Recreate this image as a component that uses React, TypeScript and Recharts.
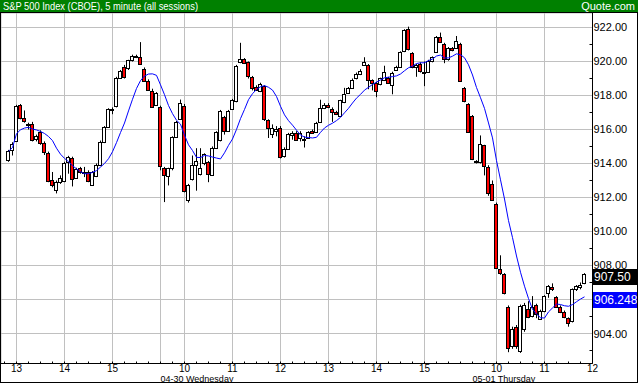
import React from 'react';
import {
  ComposedChart, Bar, Line, XAxis, YAxis, CartesianGrid, ReferenceLine,
} from 'recharts';

// ── 5 minute candles, 04-29 12:50 → 05-01 11:50 (index = candle number) ──
const OPEN = [
  914.18, 914.82, 915.35, 917.43, 916.69, 916.25, 916.33, 915.45, 915.86, 915.22,
  914.63, 913.04, 912.47, 912.92, 912.96, 914.08, 914.33, 913.16, 913.75, 913.45,
  913.49, 912.76, 913.25, 913.94, 915.28, 916.14, 917.15, 917.37, 919.04, 919.67,
  919.59, 920.08, 920.27, 920.27, 919.57, 918.88, 918.29, 917.43, 917.33, 913.75,
  913.25, 913.71, 915.57, 916.63, 917.41, 911.88, 913.06, 913.94, 913.41, 914.0,
  914.08, 913.35, 914.92, 915.37, 916.75, 915.94, 917.22, 917.67, 919.98, 920.16,
  919.96, 919.1, 918.51, 918.25, 918.55, 916.53, 915.75, 915.9, 916.1, 914.43,
  914.86, 915.7, 915.8, 915.51, 915.45, 915.51, 915.9, 915.84, 916.45, 917.27,
  917.47, 917.22, 917.04, 916.82, 917.61, 918.16, 918.45, 919.04, 919.27, 919.82,
  919.78, 918.9, 918.71, 918.65, 918.9, 919.04, 918.59, 919.49, 919.69, 920.61,
  921.92, 920.51, 919.7, 919.88, 919.35, 919.39, 920.02, 920.57, 921.45, 921.04,
  920.12, 920.8, 920.8, 921.0, 918.45, 917.51, 916.78, 914.12, 914.08, 915.06,
  913.8, 912.82, 911.63, 907.82, 907.51, 905.57, 903.25, 904.39, 903.0, 904.24,
  905.45, 905.02, 905.67, 904.86, 905.31, 906.39, 906.75, 906.16, 905.57, 905.29,
  904.9, 904.72, 906.59, 906.75, 906.98,
];
const HIGH = [
  914.8, 915.25, 917.45, 917.5, 917.12, 916.4, 916.45, 915.7, 915.95, 915.3,
  914.7, 913.5, 913.0, 913.3, 914.1, 914.45, 914.4, 913.75, 913.8, 913.8,
  913.6, 913.55, 914.0, 915.35, 916.2, 917.25, 917.3, 919.1, 919.5, 919.8,
  920.1, 920.4, 920.4, 921.14, 919.65, 918.95, 918.4, 918.2, 917.4, 913.8,
  913.75, 915.6, 916.5, 917.76, 917.5, 912.8, 914.47, 914.9, 914.9, 914.6,
  914.15, 915.0, 915.9, 917.15, 916.8, 917.15, 917.8, 919.8, 921.1, 920.2,
  920.0, 919.15, 918.6, 918.75, 918.6, 916.6, 916.3, 916.2, 916.2, 914.95,
  915.8, 915.9, 915.9, 915.9, 915.6, 915.9, 916.0, 916.45, 917.75, 917.55,
  917.55, 917.3, 917.1, 917.75, 918.45, 918.5, 919.0, 919.35, 919.55, 920.25,
  919.85, 918.95, 918.8, 919.05, 919.75, 919.1, 919.4, 919.75, 920.6, 921.9,
  922.05, 920.55, 919.85, 919.95, 920.0, 920.1, 920.3, 921.5, 921.7, 921.1,
  920.85, 920.85, 921.5, 921.1, 918.5, 917.55, 916.85, 914.2, 915.65, 915.1,
  913.9, 913.0, 911.7, 908.6, 907.55, 905.65, 904.4, 904.5, 905.7, 905.8,
  905.9, 906.2, 905.75, 905.4, 906.25, 906.85, 906.95, 906.2, 905.65, 905.35,
  904.95, 906.65, 906.85, 907.0, 907.55,
];
const LOW = [
  914.1, 914.47, 915.3, 916.6, 916.4, 916.0, 915.3, 915.3, 915.1, 914.5,
  912.9, 912.6, 912.24, 912.8, 912.9, 913.4, 912.65, 913.1, 913.4, 913.2,
  912.9, 912.7, 913.2, 913.9, 915.2, 916.1, 916.9, 917.3, 919.0, 919.0,
  919.5, 920.0, 920.2, 919.8, 918.8, 918.3, 917.3, 917.4, 913.6, 911.73,
  912.71, 913.6, 915.5, 916.6, 912.3, 911.7, 913.0, 912.4, 913.3, 913.9,
  912.9, 913.3, 914.85, 915.3, 915.7, 915.9, 917.15, 917.6, 919.9, 919.85,
  919.0, 918.3, 918.3, 918.2, 916.5, 915.5, 915.5, 915.6, 914.3, 914.35,
  914.8, 915.4, 915.35, 915.3, 914.94, 915.45, 915.75, 915.8, 916.4, 917.2,
  917.25, 916.45, 916.85, 916.75, 917.55, 918.1, 918.4, 918.95, 919.2, 919.75,
  918.37, 918.3, 917.9, 918.6, 918.85, 918.7, 918.07, 919.45, 919.65, 920.55,
  920.65, 919.6, 919.1, 919.35, 918.55, 919.35, 919.95, 920.5, 921.1, 919.9,
  920.05, 920.6, 920.75, 918.8, 917.6, 915.8, 914.2, 914.0, 914.0, 913.3,
  912.1, 911.8, 907.8, 907.45, 906.3, 902.9, 903.1, 903.1, 902.86, 904.1,
  904.9, 904.95, 904.9, 904.8, 905.25, 906.1, 906.5, 905.5, 905.2, 904.9,
  904.4, 904.65, 906.5, 906.6, 906.9,
];
const CLOSE = [
  914.72, 915.16, 917.37, 916.69, 916.49, 916.35, 915.41, 915.6, 915.18, 914.69,
  912.96, 912.71, 912.92, 913.16, 914.04, 914.39, 913.1, 913.69, 913.51, 913.5,
  912.96, 913.51, 913.94, 915.28, 916.14, 917.18, 917.22, 919.04, 919.43, 919.1,
  920.08, 920.35, 920.33, 919.88, 918.84, 918.35, 917.33, 918.16, 913.84, 913.31,
  913.71, 915.57, 916.45, 917.57, 912.37, 912.71, 913.94, 914.14, 913.75, 914.53,
  913.41, 914.92, 915.86, 917.08, 915.94, 917.08, 917.71, 919.76, 920.12, 919.92,
  919.14, 918.45, 918.35, 918.69, 916.59, 916.1, 916.06, 916.0, 914.37, 914.88,
  915.71, 915.8, 915.41, 915.8, 915.41, 915.84, 915.8, 916.39, 917.27, 917.47,
  917.31, 917.02, 916.92, 917.71, 918.1, 918.45, 918.94, 919.27, 919.47, 919.98,
  918.94, 918.71, 918.29, 919.0, 919.39, 918.75, 919.33, 919.69, 920.57, 921.88,
  920.71, 919.69, 919.8, 919.43, 919.4, 920.02, 920.27, 921.45, 921.16, 920.12,
  920.8, 920.67, 921.2, 918.86, 917.67, 915.86, 914.27, 914.08, 915.16, 913.84,
  912.24, 911.88, 907.86, 907.53, 906.39, 903.16, 904.28, 903.25, 905.6, 905.65,
  904.96, 905.57, 905.12, 905.31, 906.19, 906.78, 906.59, 905.57, 905.29, 904.96,
  904.63, 906.59, 906.78, 906.88, 907.5,
];

// hour grid lines (candle index) and their labels; '' = day break
const HOUR_IDX = [2, 14, 26, 38, 44, 56, 68, 80, 92, 104, 116, 122, 134, 146];
const HOUR_LABELS = ['13', '14', '15', '', '10', '11', '12', '13', '14', '15', '', '10', '11', '12'];
const DAY_IDX = [38, 116];
const DAY_LABELS = ['04-30 Wednesday', '05-01 Thursday'];
const PRICE_TICKS = [904, 906, 908, 910, 912, 914, 916, 918, 920, 922];
const MINOR_TICKS = [903, 905, 907, 909, 911, 913, 915, 917, 919, 921];
const QUARTER_IDX = Array.from({ length: 50 }, (_, k) => -1 + 3 * k);

const MA_PERIOD = 10;
const MA_LAST_TEXT = '906.248';

const X_DOMAIN = [-1.875, 146];
const Y_DOMAIN = [902.2353, 922.8529];

const FONT = '"Liberation Sans", Arial, sans-serif';
const GRID = '#c0c0c0';
const RED = '#ff0000';

// moving average of the closes shown in the picture
const MA = CLOSE.map((_, k) => {
  const w = CLOSE.slice(Math.max(0, k - MA_PERIOD + 1), k + 1);
  return w.reduce((a, b) => a + b, 0) / w.length;
});

const DATA = CLOSE.map((c, k) => ({
  i: k, o: OPEN[k], h: HIGH[k], l: LOW[k], c,
  range: [LOW[k], HIGH[k]], ma: MA[k],
}));

const LAST_CLOSE = CLOSE[CLOSE.length - 1];
const LAST_MA = MA[MA.length - 1];

const Candle = (props: any) => {
  const { x, y, width, height, payload } = props;
  const { o, h, l, c } = payload;
  const cx = Math.floor(x + width / 2) + 0.5;
  const py = (p: number) => y + ((h - p) / (h - l)) * height;
  const top = Math.round(py(Math.max(o, c))) + 0.5;
  const bot = Math.round(py(Math.min(o, c))) + 0.5;
  return (
    <g>
      <line x1={cx} x2={cx} y1={y} y2={y + height} stroke="#000" />
      <rect x={cx - 2} y={top} width={3} height={Math.max(bot - top, 1)}
        fill={c >= o ? '#fff' : RED} stroke="#000" />
    </g>
  );
};

const XTick = ({ x, y, payload }: any) => {
  const v = payload.value;
  const h = HOUR_IDX.indexOf(v);
  const d = DAY_IDX.indexOf(v);
  return (
    <g>
      <line x1={x} x2={x} y1={y} y2={y - 2} stroke="#000" />
      {h >= 0 && HOUR_LABELS[h] !== '' && (
        <text x={x} y={y + 8} textAnchor="middle" fontSize={10} fontFamily={FONT} fill="#000">
          {HOUR_LABELS[h]}
        </text>
      )}
      {d >= 0 && (
        <text x={x} y={y + 18} fontSize={9} fontFamily={FONT} fill="#000">
          {DAY_LABELS[d]}
        </text>
      )}
    </g>
  );
};

const YTick = ({ x, y, payload }: any) => {
  const v = payload.value;
  if (v % 2 !== 0) return <line x1={x - 3} x2={x} y1={y} y2={y} stroke="#000" />;
  // labels hidden behind the last-value boxes
  if (Math.abs(v - LAST_MA) < 0.6 || (Math.abs(v - LAST_CLOSE) < 0.4)) return <g />;
  return (
    <text x={x + 1} y={y + 4} fontSize={11} fontFamily={FONT} fill="#000">
      {v.toFixed(2)}
    </text>
  );
};

const ValueBox = ({ viewBox, text, bg }: any) => {
  const x = Math.ceil(viewBox.x + viewBox.width);
  const y = Math.round(viewBox.y) - 5;
  return (
    <g>
      <rect x={x} y={y} width={46} height={16} fill={bg} />
      <text x={x + 1} y={y + 12} fontSize={12} fontFamily={FONT} fill="#fff">{text}</text>
    </g>
  );
};

const Empty = () => <g />;

export default function App() {
  return (
    <div style={{ position: 'absolute', left: 0, top: 0, width: 638, height: 383, background: '#fff', overflow: 'hidden' }}>
      <ComposedChart width={638} height={383} data={DATA}
        margin={{ top: 13, right: 0, bottom: 0, left: 1 }}>
        <XAxis xAxisId="g" type="number" dataKey="i" domain={X_DOMAIN} ticks={HOUR_IDX} hide allowDataOverflow />
        <YAxis yAxisId="g" type="number" domain={Y_DOMAIN} ticks={PRICE_TICKS} hide allowDataOverflow />
        <CartesianGrid xAxisId="g" yAxisId="g" stroke={GRID} strokeDasharray="" />
        <XAxis xAxisId={0} type="number" dataKey="i" domain={X_DOMAIN} ticks={QUARTER_IDX}
          allowDataOverflow interval={0} height={19.5} tickSize={0} tickMargin={0}
          tickLine={false} axisLine={{ stroke: '#000' }} tick={<XTick />} />
        <XAxis xAxisId="t" orientation="top" type="number" dataKey="i" domain={X_DOMAIN}
          ticks={QUARTER_IDX} allowDataOverflow interval={0} height={0} mirror
          tickSize={2} axisLine={false} tickLine={{ stroke: '#000' }} tick={<Empty />} />
        <YAxis yAxisId={0} orientation="right" type="number" domain={Y_DOMAIN}
          ticks={[...PRICE_TICKS, ...MINOR_TICKS].sort((a, b) => a - b)} allowDataOverflow
          interval={0} width={45.5} tickSize={0} tickMargin={0} tickLine={false}
          axisLine={{ stroke: '#000' }} tick={<YTick />} />
        <YAxis yAxisId="l" orientation="left" type="number" domain={Y_DOMAIN}
          ticks={MINOR_TICKS} allowDataOverflow interval={0} width={0} mirror
          tickSize={3} axisLine={false} tickLine={{ stroke: '#000' }} tick={<Empty />} />
        <Bar dataKey="range" barSize={3} shape={<Candle />} isAnimationActive={false} />
        <Line dataKey="ma" type="linear" stroke="#0000ff" strokeWidth={1} dot={false}
          activeDot={false} isAnimationActive={false} />
        <ReferenceLine y={LAST_CLOSE} stroke="none"
          label={(p: any) => <ValueBox viewBox={p.viewBox} text={LAST_CLOSE.toFixed(2)} bg="#000" />} />
        <ReferenceLine y={LAST_MA} stroke="none"
          label={(p: any) => <ValueBox viewBox={p.viewBox} text={MA_LAST_TEXT} bg="#0000ff" />} />
      </ComposedChart>
      <svg width={638} height={12} style={{ position: 'absolute', left: 0, top: 0 }}>
        <rect x={0} y={0} width={638} height={12} fill="#008000" />
        <text x={3} y={10} fontSize={11} fontFamily={FONT} fill="#fff"
          textLength={195} lengthAdjust="spacingAndGlyphs">
          S&amp;P 500 Index (CBOE), 5 minute (all sessions)
        </text>
        <text x={635} y={10} fontSize={11} fontFamily={FONT} fill="#fff" textAnchor="end">
          Quote.com
        </text>
      </svg>
      <div style={{ position: 'absolute', left: 0, top: 12, width: 638, height: 371, border: '1px solid #000', boxSizing: 'border-box', pointerEvents: 'none' }} />
    </div>
  );
}
